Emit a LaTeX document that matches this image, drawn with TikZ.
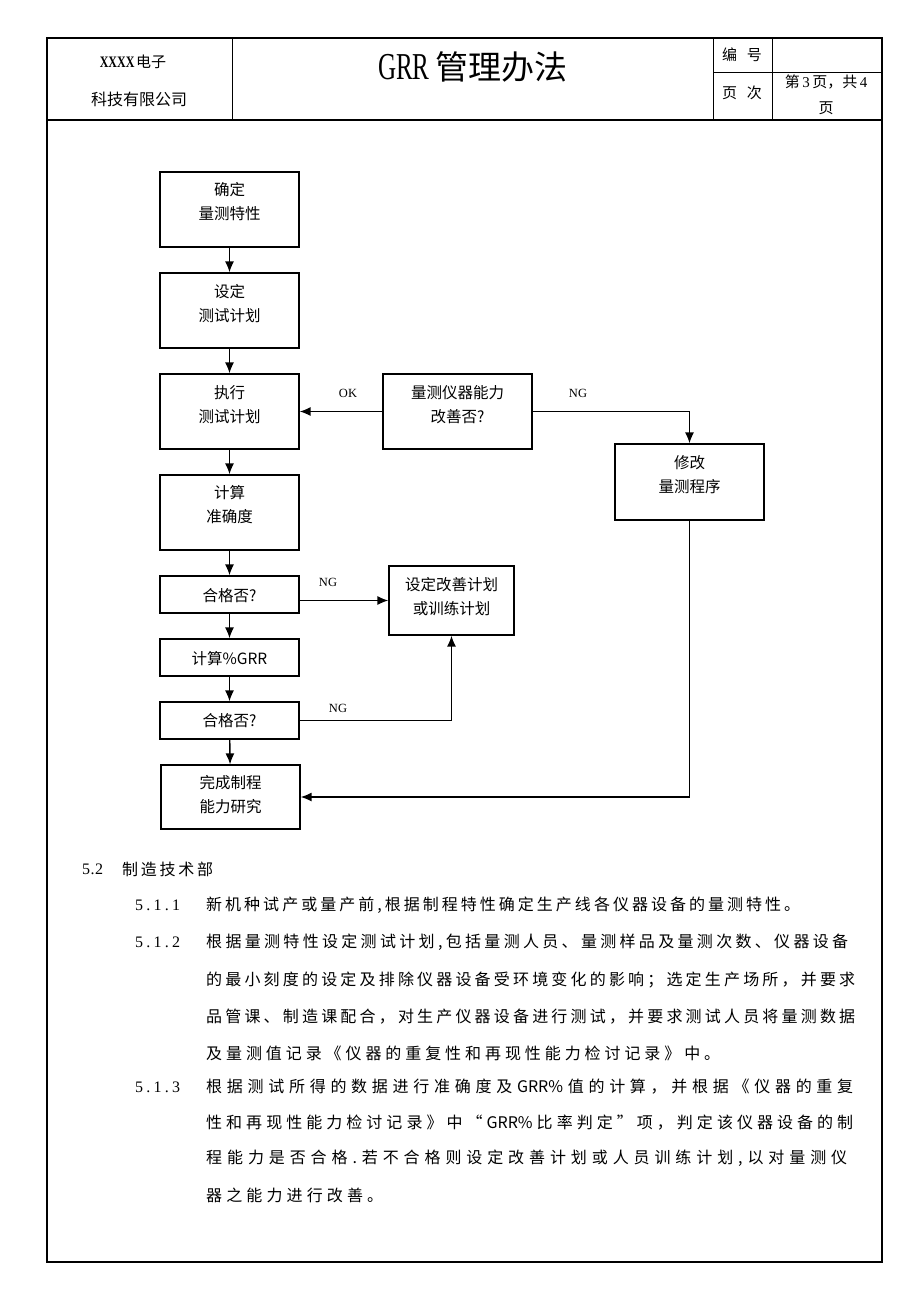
\documentclass[tikz,border=0pt]{standalone}
\usepackage{fontspec}
\usepackage{graphicx}
\setmainfont{Liberation Serif}
\newfontfamily\latb{Liberation Serif Bold}
\newfontfamily\cjk{Noto Sans CJK SC}
\usetikzlibrary{arrows.meta}
\makeatletter
\def\spr@end{\spr@end}
\def\spr@endm{\spr@end}
\def\sprA#1{#1\sprB}
\def\sprB#1{\def\spr@t{#1}\ifx\spr@t\spr@endm\else\hfil#1\expandafter\sprB\fi}
\newcommand\sline[2]{\makebox[#1pt][s]{\sprA#2\spr@end}}
\makeatother
\tikzset{
  box/.style={draw, line width=1.3pt, inner sep=0pt},
  ftxt/.style={font=\cjk\fontsize{15.5}{24}\selectfont, align=center, inner sep=0pt},
  arr/.style={-{Latex[length=11pt,width=9pt]}, line width=1.4pt},
  lbl/.style={font=\fontsize{12.5}{12.5}\selectfont, inner sep=0pt},
  body/.style={anchor=west, inner sep=0pt, font=\cjk\fontsize{16}{16}\selectfont},
  num/.style={anchor=west, inner sep=0pt, font=\fontsize{16}{16}\selectfont},
  frame/.style={line width=2pt},
  thin/.style={line width=1pt}
}
\begin{document}
\begin{tikzpicture}[x=1pt,y=-1pt]
\fill[white] (0,0) rectangle (920,1302);
\useasboundingbox (0,0) rectangle (920,1302);
% frame and header
\draw[frame] (47,38) rectangle (882,1262);
\draw[frame] (47,120) -- (882,120);
\draw[thin] (232,38) -- (232,120);
\draw[thin] (713,38) -- (713,120);
\draw[thin] (772,38) -- (772,120);
\draw[thin] (713,72) -- (882,72);
\node[inner sep=0pt] (co1) at (133,62) {{\latb\fontsize{16}{16}\selectfont\scalebox{0.75}[1]{XXXX}}\,{\cjk\fontsize{15}{15}\selectfont 电子}};
\node[inner sep=0pt] (co2) at (139,99) {\cjk\fontsize{16}{16}\selectfont 科技有限公司};
\node[inner sep=0pt] (title) at (473,67) {\fontsize{38}{38}\selectfont\scalebox{0.66}[1]{GRR}\,{\cjk\fontsize{33}{33}\selectfont 管理办法}};
\node[inner sep=0pt] (h1) at (742,55) {\cjk\fontsize{15}{15}\selectfont 编\hspace{10pt}号};
\node[inner sep=0pt] (h2) at (742,93) {\cjk\fontsize{15}{15}\selectfont 页\hspace{10pt}次};
\node[inner sep=0pt] (h3) at (826,82) {\fontsize{15}{15}\selectfont{\cjk 第}\,3\,{\cjk 页，共}\,4};
\node[inner sep=0pt] (h4) at (826,108) {\cjk\fontsize{15}{15}\selectfont 页};
% flowchart boxes
\node[box, minimum width=139pt, minimum height=75pt] (b1) at (229.5,209.5) {};
\node[ftxt] (t1) at (229.5,202) {确定\\量测特性};
\node[box, minimum width=139pt, minimum height=75pt] (b2) at (229.5,310.5) {};
\node[ftxt] (t2) at (229.5,304) {设定\\测试计划};
\node[box, minimum width=139pt, minimum height=75pt] (b3) at (229.5,411.5) {};
\node[ftxt] (t3) at (229.5,405) {执行\\测试计划};
\node[box, minimum width=139pt, minimum height=75pt] (b4) at (229.5,512.5) {};
\node[ftxt] (t4) at (229.5,505) {计算\\准确度};
\node[box, minimum width=139pt, minimum height=37pt] (b5) at (229.5,594.5) {};
\node[ftxt] (t5) at (229.5,596) {合格否?};
\node[box, minimum width=139pt, minimum height=37pt] (b6) at (229.5,657.5) {};
\node[ftxt] (t6) at (229.5,659) {计算\%GRR};
\node[box, minimum width=139pt, minimum height=37pt] (b7) at (229.5,720.5) {};
\node[ftxt] (t7) at (229.5,721) {合格否?};
\node[box, minimum width=139pt, minimum height=64pt] (b8) at (230.5,797) {};
\node[ftxt] (t8) at (230.5,794.5) {完成制程\\能力研究};
\node[box, minimum width=149pt, minimum height=75pt] (q) at (457.5,411.5) {};
\node[ftxt] (tq) at (457.5,405) {量测仪器能力\\改善否?};
\node[box, minimum width=149pt, minimum height=76pt] (m) at (689.5,482) {};
\node[ftxt] (tm) at (689.5,475) {修改\\量测程序};
\node[box, minimum width=125pt, minimum height=69pt] (p) at (451.5,600.5) {};
\node[ftxt] (tp) at (451.5,597) {设定改善计划\\或训练计划};
% connectors
\draw[arr] (b1) -- (b2);
\draw[arr] (b2) -- (b3);
\draw[arr] (b3) -- (b4);
\draw[arr] (b4) -- (b5);
\draw[arr] (b5) -- (b6);
\draw[arr] (b6) -- (b7);
\draw[arr] (b7) -- (b8);
\draw[arr] (q.west) -- (b3.east);
\draw[arr] (q.east) -| (m.north);
\draw[arr] (m.south) |- (b8.east);
\draw[arr] (b5.east |- p.west) -- (p.west);
\draw[arr] (b7.east) -| (p.south);
\node[lbl] (lok) at (348,393) {OK};
\node[lbl] (lng1) at (578,393) {NG};
\node[lbl] (lng2) at (328,582) {NG};
\node[lbl] (lng3) at (338,708) {NG};
% body text
\node[num] (n52) at (82,869) {\sline{21}{5.2}};
\node[body] (s52) at (122,869) {\sline{91}{制造技术部}};
\node[num] (n511) at (135,905) {\sline{45}{5.1.1}};
\node[body] (l1) at (206,905) {\sline{594}{新机种试产或量产前,根据制程特性确定生产线各仪器设备的量测特性。}};
\node[num] (n512) at (135,942) {\sline{45}{5.1.2}};
\node[body] (l2) at (206,942) {\sline{642}{根据量测特性设定测试计划,包括量测人员、量测样品及量测次数、仪器设备}};
\node[body] (l3) at (206,980) {\sline{649}{的最小刻度的设定及排除仪器设备受环境变化的影响；选定生产场所，并要求}};
\node[body] (l4) at (206,1017) {\sline{649}{品管课、制造课配合，对生产仪器设备进行测试，并要求测试人员将量测数据}};
\node[body] (l5) at (206,1053) {\sline{514}{及量测值记录《仪器的重复性和再现性能力检讨记录》中。}};
\node[num] (n513) at (135,1087) {\sline{45}{5.1.3}};
\node[body] (l6) at (206,1087) {\sline{647}{根据测试所得的数据进行准确度及{GRR\%}值的计算，并根据《仪器的重复}};
\node[body] (l7) at (206,1123) {\sline{647}{性和再现性能力检讨记录》中“{GRR\%}比率判定”项，判定该仪器设备的制}};
\node[body] (l8) at (206,1158) {\sline{641}{程能力是否合格.若不合格则设定改善计划或人员训练计划,以对量测仪}};
\node[body] (l9) at (206,1195) {\sline{177}{器之能力进行改善。}};
\end{tikzpicture}
\end{document}
